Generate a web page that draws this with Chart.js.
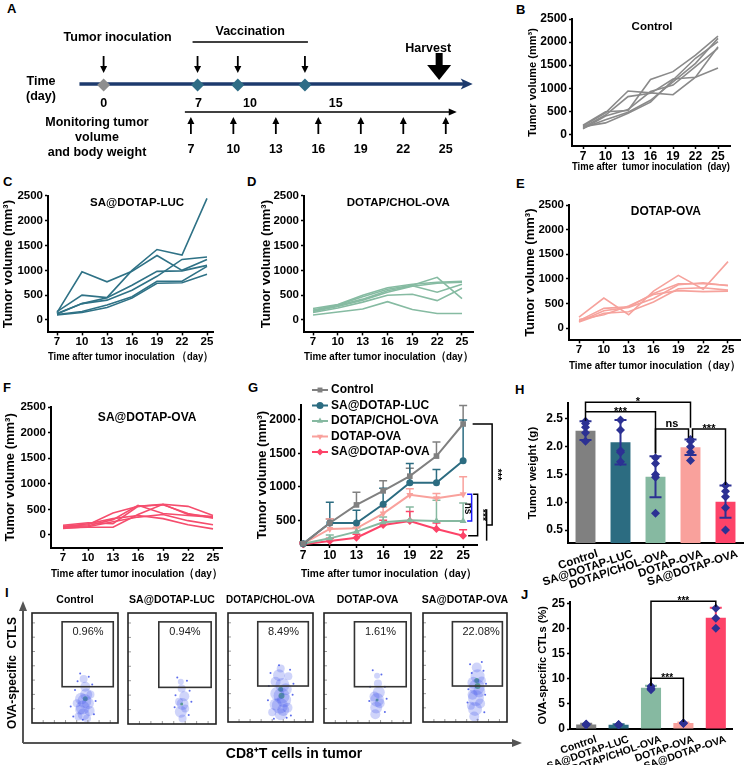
<!DOCTYPE html>
<html>
<head>
<meta charset="utf-8">
<title>Tumor growth study</title>
<script src="https://cdn.jsdelivr.net/npm/chart.js@4.4.1/dist/chart.umd.min.js"></script>
<style>
  body { margin: 0; width: 754px; height: 765px; position: relative; overflow: hidden; background: #fff; }
  canvas { position: absolute; }
  .tag { position: absolute; font: bold 13px 'Liberation Sans', Arial, sans-serif; line-height: 13px; color: #000; }
</style>
</head>
<body>
<div class="tag" style="left:7px;top:2px">A</div>
<div class="tag" style="left:516px;top:3px">B</div>
<div class="tag" style="left:3px;top:175px">C</div>
<div class="tag" style="left:247px;top:175px">D</div>
<div class="tag" style="left:516px;top:177px">E</div>
<div class="tag" style="left:3px;top:381px">F</div>
<div class="tag" style="left:248px;top:381px">G</div>
<div class="tag" style="left:515px;top:383px">H</div>
<div class="tag" style="left:5px;top:586px">I</div>
<div class="tag" style="left:521px;top:588px">J</div>
<script>
// ---------- data ----------
const days = [7, 10, 13, 16, 19, 22, 25];
const volumeTicks = [0, 500, 1000, 1500, 2000, 2500];
const meanVolumeTicks = [500, 1000, 1500, 2000];

// schedule (A)
const inoculationDay = 0;
const vaccinationDays = [7, 10, 15];
const harvestDay = 25;
const monitorDays = [7, 10, 13, 16, 19, 22, 25];

// single mice, tumor volume (mm3)
const controlMice = [
  [180, 470, 940, 900, 860, 1240, 1900],
  [150, 420, 820, 890, 1200, 1240, 1440],
  [200, 490, 520, 1190, 1360, 1720, 2130],
  [140, 320, 480, 740, 1140, 1540, 2080],
  [170, 250, 460, 700, 1180, 1650, 2010],
  [120, 400, 540, 930, 1070, 1470, 1870]
];
const lucMice = [
  [170, 500, 450, 1000, 1420, 1310, 2450],
  [150, 970, 770, 980, 1300, 1000, 1220],
  [130, 330, 450, 700, 980, 990, 1100],
  [120, 330, 400, 600, 880, 1220, 1270],
  [110, 170, 300, 470, 780, 780, 1080],
  [100, 150, 250, 440, 740, 750, 920]
];
const cholMice = [
  [230, 310, 500, 650, 720, 760, 780],
  [200, 300, 470, 620, 700, 860, 430],
  [170, 270, 400, 560, 680, 740, 760],
  [180, 290, 420, 590, 690, 560, 720],
  [150, 240, 360, 500, 520, 390, 640],
  [100, 160, 220, 370, 210, 130, 130]
];
const dotapMice = [
  [220, 610, 270, 750, 1070, 790, 1350],
  [150, 400, 430, 700, 900, 900, 870],
  [130, 350, 420, 600, 880, 920, 860],
  [120, 300, 330, 530, 800, 820, 770],
  [170, 270, 450, 680, 760, 740, 750]
];
const saMice = [
  [190, 240, 220, 560, 600, 560, 380],
  [170, 200, 430, 560, 590, 420, 330],
  [150, 180, 300, 580, 420, 380, 350],
  [140, 150, 150, 400, 600, 400, 360],
  [160, 220, 320, 380, 320, 200, 120],
  [130, 160, 260, 350, 400, 280, 200]
];

// group means (G) and upper error
const gControl = [150, 460, 730, 940, 1160, 1460, 1940];
const gControlErr = [30, 60, 190, 150, 120, 210, 275];
const gLuc = [150, 460, 460, 740, 1060, 1060, 1390];
const gLucErr = [20, 310, 190, 240, 290, 200, 610];
const gChol = [150, 230, 330, 470, 500, 490, 490];
const gCholErr = [20, 50, 60, 80, 200, 310, 270];
const gDotap = [150, 370, 380, 600, 880, 830, 890];
const gDotapErr = [20, 150, 80, 100, 90, 70, 260];
const gSa = [140, 190, 240, 430, 490, 370, 270];
const gSaErr = [20, 40, 50, 70, 140, 90, 90];

const groups = ['Control', 'SA@DOTAP-LUC', 'DOTAP/CHOL-OVA', 'DOTAP-OVA', 'SA@DOTAP-OVA'];
const groupColors = ['#808080', '#2c6c81', '#86b9a1', '#f9a19c', '#fd4368'];

// tumor weight (H)
const weightTicks = [0.5, 1.0, 1.5, 2.0, 2.5];
const weightMean = [2.29, 2.08, 1.46, 1.99, 1.01];
const weightSd = [0.17, 0.40, 0.37, 0.14, 0.29];
const weightPoints = [
  [2.46, 2.42, 2.35, 2.25, 2.10],
  [2.48, 2.30, 1.93, 1.90, 1.73],
  [1.80, 1.70, 1.50, 1.45, 0.80],
  [2.13, 2.10, 2.00, 1.90, 1.75],
  [1.30, 1.20, 1.10, 0.90, 0.50]
];
const weightBrackets = [
  { a: 0, b: 3, y: 2.80, ya: 2.47, yb: 2.34, text: '*' },
  { a: 0, b: 2, y: 2.63, ya: 2.63, yb: 1.88, text: '***' },
  { a: 2, b: 3, y: 2.32, ya: 1.88, yb: 2.16, text: 'ns', db: -2 },
  { a: 3, b: 4, y: 2.32, ya: 2.16, yb: 1.31, text: '***', da: 2 }
];

// flow cytometry (I)
const flowPercent = ['0.96%', '0.94%', '8.49%', '1.61%', '22.08%'];
const flowGate = [350, 945, 330, 920];
const flowTicks = [130, 260, 390, 520, 650, 780, 910];
const flowClouds = [
  [{x:610,y:200,r:7},{x:590,y:140,r:7},{x:630,y:260,r:6},{x:600,y:80,r:6},{x:650,y:180,r:6},{x:570,y:220,r:6},{x:620,y:330,r:5},
   {x:560,y:120,r:5},{x:670,y:110,r:5},{x:540,y:60,r:4},{x:680,y:260,r:4},{x:600,y:400,r:4},{x:520,y:180,r:4},{x:640,y:40,r:4}],
  [{x:620,y:180,r:6},{x:600,y:110,r:6},{x:640,y:250,r:5},{x:610,y:320,r:4},{x:580,y:200,r:4},{x:650,y:140,r:4},{x:620,y:50,r:4},{x:600,y:380,r:3}],
  [{x:630,y:240,r:8},{x:610,y:150,r:8},{x:640,y:340,r:7},{x:600,y:430,r:6},{x:660,y:200,r:7},{x:580,y:260,r:7},{x:620,y:70,r:6},
   {x:680,y:300,r:6},{x:560,y:160,r:6},{x:650,y:110,r:6},{x:560,y:370,r:5},{x:700,y:130,r:5},{x:620,y:490,r:4},{x:520,y:90,r:4},{x:710,y:420,r:4}],
  [{x:610,y:210,r:7},{x:600,y:140,r:6},{x:630,y:280,r:6},{x:590,y:80,r:5},{x:640,y:180,r:5},{x:580,y:240,r:5},{x:620,y:360,r:4},{x:610,y:430,r:3}],
  [{x:640,y:320,r:8},{x:630,y:220,r:8},{x:650,y:420,r:7},{x:620,y:120,r:7},{x:670,y:280,r:6},{x:600,y:360,r:6},{x:640,y:500,r:5},
   {x:610,y:50,r:5},{x:680,y:170,r:5},{x:590,y:250,r:5},{x:700,y:380,r:4},{x:570,y:150,r:4}]
];
const flowDots = [
  [{x:450,y:150},{x:700,y:350},{x:560,y:450},{x:720,y:80},{x:500,y:300},{x:660,y:420},{x:480,y:60},{x:740,y:200},{x:590,y:30},{x:530,y:380}],
  [{x:530,y:150},{x:700,y:300},{x:560,y:420},{x:690,y:80},{x:540,y:260},{x:670,y:390},{x:720,y:200}],
  [{x:470,y:200},{x:760,y:250},{x:500,y:450},{x:740,y:60},{x:480,y:330},{x:730,y:480},{x:540,y:30},{x:770,y:350},{x:600,y:520},{x:690,y:40}],
  [{x:520,y:200},{x:700,y:330},{x:560,y:480},{x:700,y:100},{x:530,y:330},{x:660,y:440},{x:720,y:220}],
  [{x:540,y:300},{x:740,y:250},{x:560,y:530},{x:730,y:90},{x:530,y:180},{x:720,y:470},{x:650,y:20},{x:750,y:350},{x:580,y:450},{x:700,y:550}]
];
const flowCores = [
  [{x:620,y:220,r:2.5}],
  [{x:610,y:180,r:1.5}],
  [{x:630,y:240,r:3},{x:620,y:300,r:2.5}],
  [{x:610,y:210,r:1.5}],
  [{x:650,y:330,r:3},{x:640,y:380,r:2.5}]
];

// OVA-specific CTLs (J)
const ctlTicks = [0, 5, 10, 15, 20, 25];
const ctlMean = [0.9, 0.85, 8.2, 1.2, 22.1];
const ctlSd = [0.15, 0.1, 0.4, 0.1, 2.0];
const ctlPoints = [
  [0.9, 0.8, 1.0],
  [0.9, 0.8, 0.85],
  [8.5, 8.1, 7.8],
  [1.2, 1.2, 1.1],
  [24.0, 22.0, 20.0]
];
const ctlBrackets = [
  { a: 2, b: 4, y: 25.4, ya: 8.6, yb: 24.3, text: '***' },
  { a: 2, b: 3, y: 10.1, ya: 8.6, yb: 1.4, text: '***' }
];

// ---------- helpers ----------
const FONT = "'Liberation Sans', Arial, sans-serif";
const NAVY = '#2c3193';
Chart.defaults.font.family = FONT;
Chart.defaults.font.weight = 'bold';
Chart.defaults.color = '#000';
Chart.defaults.animation = false;
Chart.defaults.events = [];
Chart.defaults.plugins.legend.display = false;
Chart.defaults.plugins.tooltip.enabled = false;

const plain = v => String(v);

function place(box) {
  const c = document.createElement('canvas');
  c.width = box[2];
  c.height = box[3];
  c.style.left = box[0] + 'px';
  c.style.top = box[1] + 'px';
  document.body.appendChild(c);
  return c;
}

function linAxis(o) {
  const ticks = {
    color: '#000', autoSkip: false,
    minRotation: o.rot || 0, maxRotation: o.rot || 0,
    padding: o.axis === 'x' ? (o.pad || 0) : 2,
    labelOffset: o.shift || 0,
    font: { size: o.tickSize, weight: 'bold' }
  };
  if (o.fmt) ticks.callback = o.fmt;
  const axis = {
    type: o.type || 'linear', axis: o.axis,
    afterFit: s => { if (o.axis === 'x') s.height = o.fit; else s.width = o.fit; },
    border: { color: '#000', width: 2 },
    grid: { display: o.grid !== false, drawOnChartArea: false, tickLength: 3, tickWidth: 1.5, tickColor: '#000' },
    ticks,
    title: {
      display: !!o.title, text: o.title, color: '#000',
      font: { size: o.titleSize, weight: 'bold' },
      padding: o.axis === 'x' ? { top: 0, bottom: o.titlePad || 0 } : { top: o.titlePad || 0, bottom: 0 }
    }
  };
  if (o.min !== undefined) { axis.min = o.min; axis.max = o.max; }
  if (o.ticks) axis.afterBuildTicks = s => { s.ticks = o.ticks.map(v => ({ value: v })); };
  return axis;
}

function textLabel(text, at, size) {
  return {
    id: 'textLabel',
    afterDraw(chart) {
      const { ctx, scales: { x, y } } = chart;
      ctx.save();
      ctx.font = `bold ${size}px ${FONT}`;
      ctx.fillStyle = '#000';
      ctx.textAlign = 'center';
      ctx.textBaseline = 'middle';
      ctx.fillText(text, x.getPixelForValue(at[0]), y.getPixelForValue(at[1]));
      ctx.restore();
    }
  };
}

function arrow(ctx, x, y0, y1, head, lw) {
  const dir = Math.sign(y1 - y0);
  ctx.lineWidth = lw;
  ctx.beginPath();
  ctx.moveTo(x, y0);
  ctx.lineTo(x, y1 - dir * head * 0.7);
  ctx.stroke();
  ctx.beginPath();
  ctx.moveTo(x, y1);
  ctx.lineTo(x - head * 0.5, y1 - dir * head);
  ctx.lineTo(x + head * 0.5, y1 - dir * head);
  ctx.closePath();
  ctx.fill();
}

// ---------- A: schedule ----------
const schedule = {
  id: 'schedule',
  beforeDatasetsDraw(chart) {
    const { ctx, scales: { xt, xm, xl } } = chart;
    const T = v => xt.getPixelForValue(v), M = v => xm.getPixelForValue(v), L = v => xl.getPixelForValue(v);
    ctx.save();
    ctx.fillStyle = '#000';
    ctx.strokeStyle = '#000';
    ctx.textAlign = 'center';
    ctx.textBaseline = 'middle';
    ctx.font = `bold 12.5px ${FONT}`;

    ctx.fillText('Tumor inoculation', T(inoculationDay) + 14, 38);
    const v0 = T(vaccinationDays[0]) - 5, v1 = T(vaccinationDays[vaccinationDays.length - 1]) + 3;
    ctx.lineWidth = 1.5;
    ctx.beginPath(); ctx.moveTo(v0, 42); ctx.lineTo(v1, 42); ctx.stroke();
    ctx.fillText('Vaccination', (v0 + v1) / 2, 32);
    [inoculationDay, ...vaccinationDays].forEach(d => arrow(ctx, T(d), 56, 73, 7, 1.8));

    // harvest
    const hx = T(harvestDay);
    ctx.fillRect(hx - 3.5, 53, 7, 13);
    ctx.beginPath(); ctx.moveTo(hx - 12, 65); ctx.lineTo(hx + 12, 65); ctx.lineTo(hx, 80); ctx.closePath(); ctx.fill();
    ctx.fillText('Harvest', hx - 11, 49);

    // time line
    const t0 = T(-1.8), t1 = T(27.5);
    ctx.strokeStyle = '#1d3a6d';
    ctx.fillStyle = '#1d3a6d';
    ctx.lineWidth = 3.5;
    ctx.beginPath(); ctx.moveTo(t0, 84); ctx.lineTo(t1 - 6, 84); ctx.stroke();
    ctx.beginPath(); ctx.moveTo(t1, 84); ctx.lineTo(t1 - 12, 78.5); ctx.lineTo(t1 - 9, 84); ctx.lineTo(t1 - 12, 89.5); ctx.closePath(); ctx.fill();

    ctx.fillStyle = '#000';
    ctx.strokeStyle = '#000';
    ctx.fillText('Time', 41, 82);
    ctx.fillText('(day)', 41, 97);
    ctx.fillText(String(inoculationDay), T(inoculationDay), 104);
    vaccinationDays.forEach(d => ctx.fillText(String(d), L(d), 104));

    // monitoring
    const m0 = M(monitorDays[0]) - 6, m1 = M(monitorDays[monitorDays.length - 1]) + 11;
    ctx.lineWidth = 1.5;
    ctx.beginPath(); ctx.moveTo(m0, 112); ctx.lineTo(m1 - 4, 112); ctx.stroke();
    ctx.beginPath(); ctx.moveTo(m1, 112); ctx.lineTo(m1 - 8, 108.5); ctx.lineTo(m1 - 8, 115.5); ctx.closePath(); ctx.fill();
    monitorDays.forEach(d => {
      arrow(ctx, M(d), 134, 117, 7, 1.8);
      ctx.fillText(String(d), M(d), 150);
    });
    ctx.fillText('Monitoring tumor', 97, 123);
    ctx.fillText('volume', 97, 138);
    ctx.fillText('and body weight', 97, 153);
    ctx.restore();
  }
};

new Chart(place([0, 0, 500, 200]), {
  type: 'scatter',
  data: {
    datasets: [
      { data: [{ x: inoculationDay, y: 0 }], xAxisID: 'xt', pointStyle: 'rectRot', pointRadius: 6.5, backgroundColor: '#8e8e8e', borderWidth: 0 },
      { data: vaccinationDays.map(d => ({ x: d, y: 0 })), xAxisID: 'xt', pointStyle: 'rectRot', pointRadius: 6.5, backgroundColor: '#2f6d86', borderWidth: 0 }
    ]
  },
  options: {
    responsive: false,
    layout: { padding: 0 },
    scales: {
      xt: { axis: 'x', type: 'linear', display: false, min: -7.235, max: 29.05 },
      xm: { axis: 'x', type: 'linear', display: false, min: -6.02, max: 28.37 },
      xl: { axis: 'x', type: 'linear', display: false, min: -4.18, max: 24.19 },
      y: { type: 'linear', display: false, min: -116, max: 84 }
    }
  },
  plugins: [schedule]
});

// ---------- B–F: individual growth curves ----------
function volumeChart(p) {
  const [bx, by, bw, bh] = p.box, [al, at, ar, ab] = p.area;
  new Chart(place(p.box), {
    type: 'line',
    data: {
      datasets: p.mice.map(m => ({
        data: m.map((v, i) => ({ x: days[i], y: v })),
        borderColor: p.color, borderWidth: 1.6, pointRadius: 0, tension: 0, fill: false
      }))
    },
    options: {
      responsive: false,
      layout: { padding: { left: 0, top: at - by, right: bx + bw - ar, bottom: 0 } },
      scales: {
        x: linAxis({ axis: 'x', min: p.x[0], max: p.x[1], ticks: days, fit: by + bh - ab, tickSize: p.tickSize, fmt: plain,
          title: p.xTitle, titleSize: p.xTitleSize, titlePad: by + bh - p.xTitleY - p.xTitleSize * 0.6 }),
        y: linAxis({ axis: 'y', min: -250, max: 2500, ticks: volumeTicks, fit: al - bx, tickSize: p.tickSize, fmt: plain,
          title: 'Tumor volume (mm³)', titleSize: p.yTitleSize, titlePad: p.yTitleX - bx - p.yTitleSize * 0.6 })
      }
    },
    plugins: [textLabel(p.label, p.labelAt, p.labelSize)]
  });
}

const xTitleFull = 'Time after tumor inoculation（day）';

volumeChart({ box: [500, 0, 254, 180], area: [572, 19, 730, 146], x: [5.53, 26.6], mice: controlMice, color: '#8a8a8a',
  tickSize: 12, xTitle: 'Time after  tumor inoculation  (day)', xTitleSize: 11, xTitleY: 167, yTitleSize: 11, yTitleX: 533,
  label: 'Control', labelAt: [16.2, 2326], labelSize: 11.5 });
volumeChart({ box: [0, 185, 250, 195], area: [48, 195.9, 213, 332.4], x: [5.92, 25.72], mice: lucMice, color: '#2f7286',
  tickSize: 11.5, xTitle: 'Time after tumor inoculation （day）', xTitleSize: 11.5, xTitleY: 357, yTitleSize: 13, yTitleX: 8.3,
  label: 'SA@DOTAP-LUC', labelAt: [16.6, 2357], labelSize: 11.5 });
volumeChart({ box: [250, 185, 254, 195], area: [304, 195.9, 473, 332.4], x: [5.91, 26.33], mice: cholMice, color: '#86bba2',
  tickSize: 11.5, xTitle: xTitleFull, xTitleSize: 11.5, xTitleY: 357.3, yTitleSize: 13, yTitleX: 266,
  label: 'DOTAP/CHOL-OVA', labelAt: [17.3, 2357], labelSize: 11.5 });
volumeChart({ box: [505, 185, 249, 195], area: [569, 205.1, 740, 340.3], x: [5.79, 26.45], mice: dotapMice, color: '#f6a29c',
  tickSize: 11.5, xTitle: xTitleFull, xTitleSize: 11.5, xTitleY: 366, yTitleSize: 13, yTitleX: 530,
  label: 'DOTAP-OVA', labelAt: [17.5, 2360], labelSize: 12 });
volumeChart({ box: [0, 395, 250, 190], area: [51, 407, 222, 547.8], x: [5.56, 26.08], mice: saMice, color: '#f54d6d',
  tickSize: 11.5, xTitle: xTitleFull, xTitleSize: 11.5, xTitleY: 574, yTitleSize: 13, yTitleX: 10,
  label: 'SA@DOTAP-OVA', labelAt: [17.1, 2285], labelSize: 12 });

// ---------- G: group means ----------
const gSeries = [
  { label: groups[0], mean: gControl, err: gControlErr, style: 'rect', rot: 0, r: 4 },
  { label: groups[1], mean: gLuc, err: gLucErr, style: 'circle', rot: 0, r: 3.5 },
  { label: groups[2], mean: gChol, err: gCholErr, style: 'triangle', rot: 0, r: 4 },
  { label: groups[3], mean: gDotap, err: gDotapErr, style: 'triangle', rot: 180, r: 4 },
  { label: groups[4], mean: gSa, err: gSaErr, style: 'rectRot', rot: 0, r: 4 }
];

const gExtras = {
  id: 'gExtras',
  beforeDatasetsDraw(chart) {
    const { ctx, scales: { x, y } } = chart;
    ctx.save();
    ctx.lineWidth = 1.5;
    chart.data.datasets.forEach(ds => {
      ctx.strokeStyle = ds.borderColor;
      ds.data.forEach((pt, i) => {
        const px = x.getPixelForValue(pt.x), p0 = y.getPixelForValue(pt.y), p1 = y.getPixelForValue(pt.y + ds.errors[i]);
        ctx.beginPath();
        ctx.moveTo(px, p0); ctx.lineTo(px, p1);
        ctx.moveTo(px - 4, p1); ctx.lineTo(px + 4, p1);
        ctx.stroke();
      });
    });
    ctx.restore();
  },
  afterDraw(chart) {
    const { ctx, chartArea, scales: { x, y } } = chart;
    const Y = v => y.getPixelForValue(v);
    const x25 = x.getPixelForValue(days[days.length - 1]);
    const last = days.length - 1;
    ctx.save();
    // legend
    chart.data.datasets.forEach((ds, i) => {
      const ly = chartArea.top - 15 + i * 15.5, lx0 = chartArea.left + 11, lx1 = chartArea.left + 27;
      ctx.strokeStyle = ds.borderColor;
      ctx.fillStyle = ds.borderColor;
      ctx.lineWidth = 2;
      ctx.beginPath(); ctx.moveTo(lx0, ly); ctx.lineTo(lx1, ly); ctx.stroke();
      Chart.helpers.drawPoint(ctx, { pointStyle: ds.pointStyle, rotation: ds.pointRotation, radius: 3.5, borderWidth: 0 }, (lx0 + lx1) / 2, ly);
      ctx.fillStyle = '#000';
      ctx.font = `bold 12px ${FONT}`;
      ctx.textAlign = 'left';
      ctx.textBaseline = 'middle';
      ctx.fillText(ds.label, lx1 + 3, ly);
    });
    // significance brackets
    const path = (pts, color) => {
      ctx.strokeStyle = color; ctx.lineWidth = 1.5;
      ctx.beginPath(); ctx.moveTo(pts[0][0], pts[0][1]);
      pts.slice(1).forEach(p => ctx.lineTo(p[0], p[1]));
      ctx.stroke();
    };
    const vtext = (t, px, py, color) => {
      ctx.save(); ctx.translate(px, py); ctx.rotate(Math.PI / 2);
      ctx.fillStyle = color; ctx.font = `bold 10px ${FONT}`; ctx.textAlign = 'center'; ctx.textBaseline = 'middle';
      ctx.fillText(t, 0, 0); ctx.restore();
    };
    const yD = Y(gDotap[last]), yS = Y(gSa[last]), yC = Y(gChol[last]), yK = Y(gControl[last]);
    path([[x25 + 10, yD], [x25 + 14.5, yD], [x25 + 14.5, yS], [x25 + 5, yS]], '#000');
    vtext('***', x25 + 19, (yD + yS) / 2, '#000');
    path([[x25 + 4, yD], [x25 + 8.5, yD], [x25 + 8.5, yC], [x25 + 4, yC]], '#1a1aff');
    vtext('ns', x25 + 4.5, (yD + yC) / 2 + 1, '#000');
    const g0 = yD + 15, g1 = yS + 5, gm = (g0 + g1) / 2;
    path([[x25 + 23.5, g0], [x25 + 23.5, g1]], '#000');
    path([[x25 + 9.5, yK], [x25 + 29, yK], [x25 + 29, gm], [x25 + 23.5, gm]], '#000');
    vtext('***', x25 + 34, (yK + gm) / 2, '#000');
    ctx.restore();
  }
};

new Chart(place([252, 380, 253, 205]), {
  type: 'line',
  data: {
    datasets: gSeries.map((s, k) => ({
      label: s.label,
      data: s.mean.map((v, i) => ({ x: days[i], y: v })),
      errors: s.err,
      borderColor: groupColors[k], backgroundColor: groupColors[k],
      borderWidth: 2, pointStyle: s.style, pointRotation: s.rot, pointRadius: s.r, pointBorderWidth: 0,
      tension: 0, clip: false
    }))
  },
  options: {
    responsive: false,
    layout: { padding: { left: 0, top: 25, right: 28, bottom: 0 } },
    scales: {
      x: linAxis({ axis: 'x', min: 6.76, max: 26.56, ticks: days, fit: 40, tickSize: 12, fmt: plain,
        title: xTitleFull, titleSize: 11.5, titlePad: 585 - 574 - 6.9 }),
      y: linAxis({ axis: 'y', min: 130.6, max: 2224, ticks: meanVolumeTicks, fit: 49, tickSize: 12, fmt: plain,
        title: 'Tumor volume (mm³)', titleSize: 13, titlePad: 262 - 252 - 7.8 })
    }
  },
  plugins: [gExtras]
});

// ---------- H & J: bar charts ----------
function barExtras(means, sds, errColors, brackets, textSize) {
  return {
    id: 'barExtras',
    afterDatasetDraw(chart, args) {
      if (args.index !== 0) return;
      const { ctx, scales: { x, y } } = chart;
      ctx.save();
      ctx.lineWidth = 2;
      means.forEach((m, i) => {
        const px = x.getPixelForValue(i), a = y.getPixelForValue(m - sds[i]), b = y.getPixelForValue(m + sds[i]);
        ctx.strokeStyle = errColors[i];
        ctx.beginPath();
        ctx.moveTo(px, a); ctx.lineTo(px, b);
        ctx.moveTo(px - 6, b); ctx.lineTo(px + 6, b);
        ctx.moveTo(px - 6, a); ctx.lineTo(px + 6, a);
        ctx.stroke();
      });
      ctx.restore();
    },
    afterDraw(chart) {
      const { ctx, scales: { x, y } } = chart;
      ctx.save();
      ctx.strokeStyle = '#000';
      ctx.fillStyle = '#000';
      ctx.lineWidth = 1.5;
      ctx.font = `bold ${textSize}px ${FONT}`;
      ctx.textAlign = 'center';
      ctx.textBaseline = 'alphabetic';
      brackets.forEach(b => {
        const xa = x.getPixelForValue(b.a) + (b.da || 0), xb = x.getPixelForValue(b.b) + (b.db || 0);
        const yy = y.getPixelForValue(b.y);
        ctx.beginPath();
        ctx.moveTo(xa, y.getPixelForValue(b.ya));
        ctx.lineTo(xa, yy); ctx.lineTo(xb, yy);
        ctx.lineTo(xb, y.getPixelForValue(b.yb));
        ctx.stroke();
        ctx.fillText(b.text, (xa + xb) / 2, b.text.includes('*') ? yy + 3 : yy - 2);
      });
      ctx.restore();
    }
  };
}

function pointsOf(list) {
  const out = [];
  list.forEach((vals, i) => vals.forEach(v => out.push({ x: groups[i], y: v })));
  return out;
}

new Chart(place([520, 390, 234, 200]), {
  type: 'bar',
  data: {
    labels: groups,
    datasets: [
      { data: weightMean, backgroundColor: groupColors, barPercentage: 0.57, categoryPercentage: 1, order: 2 },
      { type: 'scatter', data: pointsOf(weightPoints), backgroundColor: NAVY, pointStyle: 'rectRot', pointRadius: 4.5, pointBorderWidth: 0, order: 1 }
    ]
  },
  options: {
    responsive: false,
    layout: { padding: { left: 0, top: 13, right: 11, bottom: 0 } },
    scales: {
      x: linAxis({ type: 'category', axis: 'x', fit: 47, tickSize: 11.5, rot: 18, shift: 12, grid: false, pad: 1 }),
      y: linAxis({ axis: 'y', min: 0.266, max: 2.788, ticks: weightTicks, fit: 48, tickSize: 12, fmt: v => v.toFixed(1),
        title: 'Tumor weight (g)', titleSize: 11.5, titlePad: 533 - 520 - 6.9 })
    }
  },
  plugins: [barExtras(weightMean, weightSd, weightMean.map(() => NAVY), weightBrackets, 11)]
});

new Chart(place([525, 590, 229, 175]), {
  type: 'bar',
  data: {
    labels: groups,
    datasets: [
      { data: ctlMean, backgroundColor: groupColors, barPercentage: 0.62, categoryPercentage: 1, order: 2 },
      { type: 'scatter', data: pointsOf(ctlPoints), backgroundColor: NAVY, pointStyle: 'rectRot', pointRadius: 4.5, pointBorderWidth: 0, order: 1 }
    ]
  },
  options: {
    responsive: false,
    layout: { padding: { left: 0, top: 11.7, right: 22, bottom: 0 } },
    scales: {
      x: linAxis({ type: 'category', axis: 'x', fit: 36, tickSize: 10.5, rot: 19, shift: 10, grid: false, pad: 1 }),
      y: linAxis({ axis: 'y', min: 0, max: 25.3, ticks: ctlTicks, fit: 45, tickSize: 12, fmt: plain,
        title: 'OVA-specific CTLs (%)', titleSize: 11, titlePad: 543 - 525 - 6.6 })
    }
  },
  plugins: [barExtras(ctlMean, ctlSd, groupColors, ctlBrackets, 10)]
});

// ---------- I: flow cytometry ----------
const flowFrame = {
  id: 'flowFrame',
  afterDraw(chart) {
    const { ctx, chartArea: a } = chart;
    ctx.save();
    ctx.strokeStyle = '#555';
    ctx.fillStyle = '#555';
    ctx.lineWidth = 2;
    ctx.beginPath();
    ctx.moveTo(a.left, a.bottom); ctx.lineTo(a.left, a.top + 6);
    ctx.moveTo(a.left, a.bottom); ctx.lineTo(a.right - 6, a.bottom);
    ctx.stroke();
    ctx.beginPath(); ctx.moveTo(a.left, a.top - 2); ctx.lineTo(a.left - 4, a.top + 8); ctx.lineTo(a.left + 4, a.top + 8); ctx.closePath(); ctx.fill();
    ctx.beginPath(); ctx.moveTo(a.right + 2, a.bottom); ctx.lineTo(a.right - 8, a.bottom - 4); ctx.lineTo(a.right - 8, a.bottom + 4); ctx.closePath(); ctx.fill();
    ctx.fillStyle = '#000';
    ctx.textAlign = 'center';
    ctx.textBaseline = 'middle';
    ctx.font = `bold 14px ${FONT}`;
    ctx.fillText('CD8⁺T cells in tumor', a.left + 271, a.bottom + 11);
    ctx.translate(a.left - 10, (a.top + a.bottom) / 2);
    ctx.rotate(-Math.PI / 2);
    ctx.font = `bold 12px ${FONT}`;
    ctx.fillText('OVA-specific  CTLS', 0, 0);
    ctx.restore();
  }
};

new Chart(place([0, 585, 530, 180]), {
  type: 'scatter',
  data: { datasets: [] },
  options: {
    responsive: false,
    layout: { padding: { left: 23, top: 18, right: 10, bottom: 22 } },
    scales: { x: { display: false, min: 0, max: 1 }, y: { display: false, min: 0, max: 1 } }
  },
  plugins: [flowFrame]
});

function flowBox(i) {
  return {
    id: 'flowBox',
    afterDraw(chart) {
      const { ctx, chartArea: a, scales: { x, y } } = chart;
      ctx.save();
      ctx.strokeStyle = '#999';
      ctx.lineWidth = 1;
      ctx.beginPath();
      flowTicks.forEach(t => {
        const px = x.getPixelForValue(t), py = y.getPixelForValue(t);
        ctx.moveTo(px, a.bottom); ctx.lineTo(px, a.bottom - 3);
        ctx.moveTo(a.left, py); ctx.lineTo(a.left + 3, py);
      });
      ctx.stroke();
      ctx.strokeStyle = '#222';
      ctx.lineWidth = 1.6;
      ctx.strokeRect(a.left, a.top, a.right - a.left, a.bottom - a.top);
      const gx0 = x.getPixelForValue(flowGate[0]), gx1 = x.getPixelForValue(flowGate[1]);
      const gy0 = y.getPixelForValue(flowGate[2]), gy1 = y.getPixelForValue(flowGate[3]);
      ctx.strokeStyle = '#333';
      ctx.strokeRect(gx0, gy1, gx1 - gx0, gy0 - gy1);
      ctx.fillStyle = '#222';
      ctx.font = `11px ${FONT}`;
      ctx.textAlign = 'left';
      ctx.textBaseline = 'middle';
      ctx.fillText(flowPercent[i], x.getPixelForValue(470), y.getPixelForValue(828));
      ctx.restore();
    }
  };
}

const flowBoxes = [[31, 119], [128, 216], [226, 315], [323, 412], [421, 509]];
flowBoxes.forEach((b, i) => {
  new Chart(place([b[0] - 6, 592, b[1] - b[0] + 12, 138]), {
    type: 'bubble',
    data: {
      datasets: [
        { data: flowClouds[i], backgroundColor: 'rgba(55,75,235,0.24)', borderWidth: 0 },
        { type: 'scatter', data: flowDots[i], backgroundColor: 'rgba(50,70,230,0.8)', pointRadius: 1, pointBorderWidth: 0 },
        { data: flowCores[i], backgroundColor: 'rgba(80,190,60,0.8)', borderWidth: 0 }
      ]
    },
    options: {
      responsive: false,
      layout: { padding: { left: 6, right: 6, top: 0, bottom: 1 } },
      scales: { x: { display: false, min: 0, max: 1000 }, y: { display: false, min: 0, max: 1000 } },
      plugins: {
        title: { display: true, text: groups[i], color: '#000', font: { size: 10.5, weight: 'bold' }, padding: { top: 2, bottom: 6.4 } }
      }
    },
    plugins: [flowBox(i)]
  });
});
</script>
</body>
</html>
